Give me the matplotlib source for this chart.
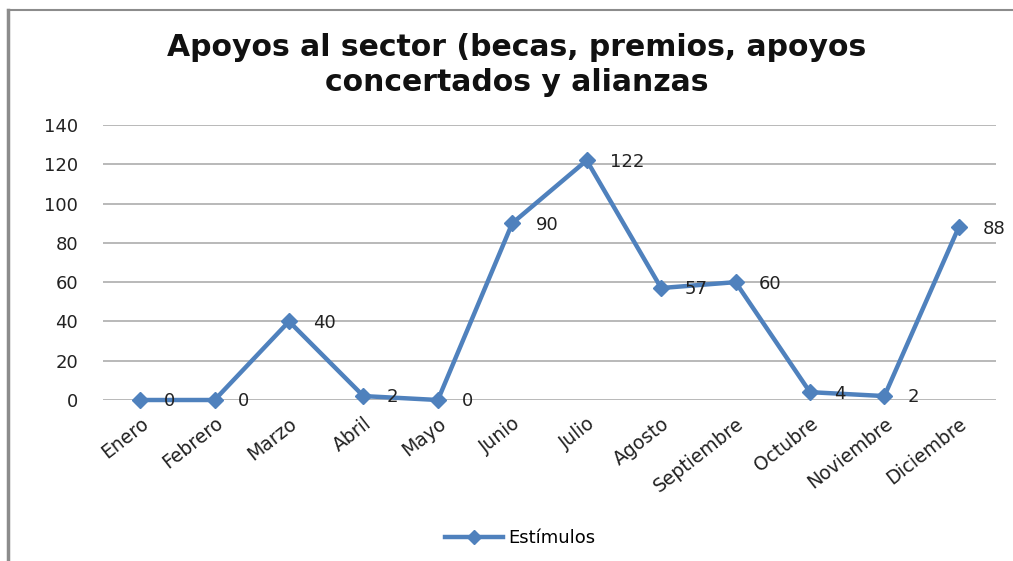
import matplotlib
matplotlib.use("Agg")
import matplotlib.pyplot as plt
from matplotlib.lines import Line2D

months = ["Enero", "Febrero", "Marzo", "Abril", "Mayo", "Junio", "Julio",
          "Agosto", "Septiembre", "Octubre", "Noviembre", "Diciembre"]
estimulos = [0, 0, 40, 2, 0, 90, 122, 57, 60, 4, 2, 88]
yticks = [0, 20, 40, 60, 80, 100, 120, 140]
title = "Apoyos al sector (becas, premios, apoyos\nconcertados y alianzas"
series_name = "Estímulos"

blue = "#4F81BD"
W, H = 1013, 561
fig = plt.figure(figsize=(W / 100, H / 100), dpi=100)
ax = fig.add_axes([103 / W, (H - 400) / H, (996 - 103) / W, 275 / H])

x = list(range(len(months)))
ax.plot(x, estimulos, color=blue, lw=3.2, marker="D", ms=8, zorder=3,
        clip_on=False)
for xi, v in zip(x, estimulos):
    ax.annotate(str(v), (xi, v), xytext=(17, -1), textcoords="offset points",
                ha="left", va="center", fontsize=13, color="#222222",
                annotation_clip=False, zorder=4)

ax.set_xlim(-0.5, len(months) - 0.5)
ax.set_ylim(0, 140)
ax.set_yticks(yticks)
ax.set_xticks(x)
ax.set_xticklabels(months, rotation=38, ha="right", rotation_mode="anchor",
                   fontsize=13.5, color="#222222")
ax.tick_params(axis="y", labelsize=13, labelcolor="#222222", length=0, pad=18)
ax.tick_params(axis="x", length=0, pad=10)
ax.grid(axis="y", color="#A6A6A6", lw=1.1)
ax.set_axisbelow(True)
for s in ax.spines.values():
    s.set_visible(False)

fig.text(517 / W, 1 - 65 / H, title, ha="center", va="center",
         fontsize=21.5, fontweight="bold", linespacing=1.3, color="#111111")

handle = Line2D([], [], color=blue, lw=3.2, marker="D", ms=7)
fig.legend([handle], [series_name], loc="center", bbox_to_anchor=(520 / W, 1 - 538 / H),
           frameon=False, fontsize=13, handlelength=3.2, handletextpad=0.3)

# chart border (left and top visible)
fig.add_artist(Line2D([8 / W, 8 / W], [0, 1 - 10 / H], color="#8C8C8C", lw=2.5))
fig.add_artist(Line2D([8 / W, 1], [1 - 10 / H, 1 - 10 / H], color="#8C8C8C", lw=1.5))

fig.savefig("out.png", dpi=100)
